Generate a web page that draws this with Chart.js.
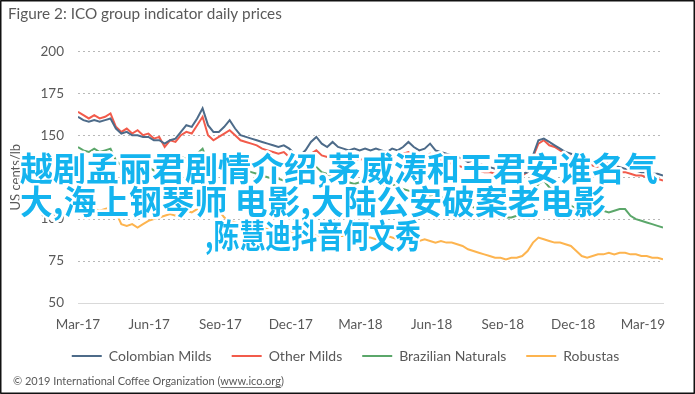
<!DOCTYPE html>
<html lang="en">
<head>
<meta charset="UTF-8">
<title>ICO group indicator daily prices</title>
<script src="https://cdn.jsdelivr.net/npm/chart.js"></script>
<style>
  html, body { margin: 0; padding: 0; background: #fff; }
</style>
</head>
<body>
<canvas id="icoChart" width="695" height="394"></canvas>
<script>
// days counted from 1 Mar 2017, one reading a week
const weekDays = [
  0, 7, 14, 21, 28, 35, 42, 49, 56, 63, 70, 77, 84, 91, 98, 105, 112, 119, 126, 133,
  140, 147, 154, 161, 168, 175, 182, 189, 196, 203, 210, 217, 224, 231, 238, 245, 252, 259, 266, 273,
  280, 287, 294, 301, 308, 315, 322, 329, 336, 343, 350, 357, 364, 371, 378, 385, 392, 399, 406, 413,
  420, 427, 434, 441, 448, 455, 462, 469, 476, 483, 490, 497, 504, 511, 518, 525, 532, 539, 546, 553,
  560, 567, 574, 581, 588, 595, 602, 609, 616, 623, 630, 637, 644, 651, 658, 665, 672, 679, 686, 693,
  700, 707, 714, 721, 728, 735, 742, 749, 756
];

const seriesNames = ['Colombian Milds', 'Other Milds', 'Brazilian Naturals', 'Robustas'];

const colombianMilds = [
  161, 159, 158, 159, 158, 159, 160, 154, 151, 152,
  150, 150, 149, 149, 147, 147, 145, 147, 148, 152,
  156, 155, 160, 166, 156, 152, 152, 155, 159, 154,
  150, 149, 148, 147, 146, 145, 144, 143, 144, 142,
  139, 138, 141, 146, 149, 145, 143, 146, 143, 142,
  141, 142, 141, 142, 141, 142, 141, 140, 142, 141,
  143, 146, 143, 141, 142, 145, 141, 140, 139, 138,
  137, 136, 134, 135, 133, 132, 131, 130, 131, 128,
  127, 126, 127, 128, 138, 147, 148, 146, 144, 142,
  140, 139, 138, 137, 136, 135, 134, 134, 133, 132,
  131, 130, 130, 129, 128, 128, 127, 127, 126
];

const otherMilds = [
  164, 162, 160, 162, 160, 161, 163, 155, 152, 154,
  151, 153, 150, 151, 148, 149, 143, 147, 146, 150,
  152, 151, 156, 161, 150, 147, 149, 151, 153, 150,
  147, 146, 145, 144, 142, 141, 140, 139, 140, 137,
  136, 137, 136, 139, 141, 138, 137, 138, 136, 137,
  136, 135, 136, 135, 137, 137, 136, 135, 137, 138,
  139, 140, 138, 137, 137, 139, 136, 135, 134, 133,
  132, 131, 130, 130, 129, 128, 128, 127, 128, 126,
  125, 125, 126, 128, 137, 145, 147, 144, 143, 141,
  139, 137, 136, 134, 133, 132, 131, 131, 130, 129,
  128, 128, 127, 126, 126, 125, 124, 124, 123
];

const brazilianNaturals = [
  143, 141, 140, 142, 140, 141, 142, 135, 132, 133,
  131, 132, 130, 131, 129, 130, 133, 135, 136, 137,
  136, 138, 139, 142, 134, 131, 132, 134, 136, 132,
  130, 129, 128, 127, 126, 125, 124, 124, 123, 122,
  123, 127, 130, 133, 131, 128, 127, 125, 124, 123,
  122, 121, 122, 121, 122, 123, 121, 120, 121, 119,
  118, 117, 116, 117, 115, 114, 115, 113, 112, 113,
  111, 110, 108, 107, 106, 105, 104, 103, 102, 101,
  101, 102, 103, 105, 115, 121, 123, 119, 116, 113,
  110, 108, 106, 105, 104, 103, 104, 105, 104, 105,
  106, 106, 102, 100, 99, 98, 97, 96, 95
];

const robustas = [
  107, 106, 107, 106, 105, 106, 107, 104, 97, 96,
  97, 95, 97, 99, 100, 101, 102, 103, 102, 104,
  105, 104, 106, 105, 106, 107, 105, 101, 99, 98,
  97, 96, 96, 95, 95, 94, 94, 93, 94, 93,
  92, 93, 92, 91, 90, 91, 92, 91, 90, 90,
  89, 89, 88, 89, 89, 88, 89, 90, 89, 88,
  89, 88, 88, 87, 88, 87, 86, 87, 86, 86,
  85, 84, 82, 81, 80, 79, 78, 77, 77, 76,
  77, 77, 78, 81, 86, 89, 88, 87, 86, 86,
  85, 84, 81, 78, 77, 78, 79, 79, 80, 79,
  80, 80, 79, 79, 78, 78, 77, 77, 76
];

// x tick positions (first day of each quarter) and their labels
const tickDays = [0, 92, 184, 275, 365, 457, 549, 640, 730];
const tickLabels = ['Mar-17', 'Jun-17', 'Sep-17', 'Dec-17', 'Mar-18', 'Jun-18', 'Sep-18', 'Dec-18', 'Mar-19'];

const seriesColors = ['#4d6b89', '#f25b4b', '#5ba76a', '#fdb44f'];

const overlayLines = [
  '越剧孟丽君剧情介绍,茅威涛和王君安谁名气',
  '大,海上钢琴师 电影,大陆公安破案老电影',
  ',陈慧迪抖音何文秀'
];

const textGrey = '#595959';

const toPoints = (values) => values.map((v, i) => ({ x: weekDays[i], y: v }));

// frame, copyright line and the overlaid caption
const extrasPlugin = {
    id: 'extras',
    beforeDraw(chart) {
        const ctx = chart.ctx;
        ctx.save();
        ctx.fillStyle = '#fff';
        ctx.fillRect(0, 0, chart.width, chart.height);
        ctx.restore();
    },
    afterLayout(chart) {
        // the legend in the original sits a bit right of the plot centre
        chart.legend.left += 10;
        chart.legend.right += 10;
    },
    afterDraw(chart) {
        const ctx = chart.ctx;
        ctx.save();

        // copyright
        const prefix = '© 2019 International Coffee Organization (';
        const link = 'www.ico.org';
        ctx.font = '11px Lato';
        ctx.fillStyle = textGrey;
        ctx.textBaseline = 'middle';
        ctx.fillText(prefix + link + ')', 13, 381);
        const x0 = 13 + ctx.measureText(prefix).width;
        const w = ctx.measureText(link).width;
        ctx.fillRect(x0, 387, w, 0.8);

        // caption over the plot
        ctx.font = 'bold 33px "Noto Sans CJK SC"';
        ctx.textBaseline = 'middle';
        ctx.lineJoin = 'round';
        const xs = [20, 20, 205];
        const ys = [168, 201, 235];
        const widths = [642, 586, 216];
        overlayLines.forEach((line, i) => {
            ctx.strokeStyle = '#fff';
            ctx.lineWidth = 5;
            ctx.strokeText(line, xs[i], ys[i], widths[i]);
            ctx.fillStyle = '#14b4ef';
            ctx.fillText(line, xs[i], ys[i], widths[i]);
        });

        // outer frame
        ctx.strokeStyle = '#111';
        ctx.lineWidth = 1.5;
        ctx.strokeRect(0.75, 0.75, chart.width - 1.5, chart.height - 1.5);
        ctx.restore();
    }
};

const ctx = document.getElementById('icoChart').getContext('2d');
new Chart(ctx, {
    type: 'line',
    data: {
        datasets: [colombianMilds, otherMilds, brazilianNaturals, robustas].map((values, i) => ({
            label: seriesNames[i],
            data: toPoints(values),
            borderColor: seriesColors[i],
            backgroundColor: seriesColors[i],
            borderWidth: 2,
            pointRadius: 0,
            tension: 0
        }))
    },
    options: {
        responsive: false,
        animation: false,
        layout: { padding: { left: 8, right: 32, top: 0, bottom: 21 } },
        scales: {
            x: {
                type: 'linear',
                min: 0,
                max: 756,
                afterFit: (scale) => { scale.height = 26; },
                afterBuildTicks: (scale) => {
                    scale.ticks = tickDays.map(d => ({ value: d }));
                },
                grid: { display: false, drawTicks: false },
                border: { display: true, color: '#d9d9d9', width: 1 },
                ticks: {
                    autoSkip: false,
                    maxRotation: 0,
                    padding: 14,
                    color: textGrey,
                    font: { family: 'Lato', size: 13.5 },
                    callback: (value) => tickLabels[tickDays.indexOf(value)]
                }
            },
            y: {
                min: 50,
                max: 200,
                afterFit: (scale) => { scale.width = 70; },
                grid: {
                    drawTicks: false,
                    color: (c) => c.tick && c.tick.value === 50 ? 'rgba(0,0,0,0)' : '#b8b8b8',
                    lineWidth: 1
                },
                border: { display: false, dash: [2, 3] },
                ticks: {
                    stepSize: 25,
                    padding: 14,
                    color: textGrey,
                    font: { family: 'Lato', size: 13.5 }
                },
                title: {
                    display: true,
                    text: 'US cents/lb',
                    color: textGrey,
                    padding: { top: 0, bottom: 0 },
                    font: { family: 'Lato', size: 13 }
                }
            }
        },
        plugins: {
            title: {
                display: true,
                text: 'Figure 2: ICO group indicator daily prices',
                align: 'start',
                color: textGrey,
                font: { family: 'Lato', size: 15.3, weight: 'normal' },
                padding: { top: 5, bottom: 28 }
            },
            legend: {
                position: 'bottom',
                labels: {
                    boxWidth: 30,
                    boxHeight: 2,
                    padding: 20,
                    color: textGrey,
                    font: { family: 'Lato', size: 14 },
                    generateLabels: (chart) => Chart.defaults.plugins.legend.labels.generateLabels(chart)
                        .map(item => Object.assign(item, { lineWidth: 0 }))
                }
            },
            tooltip: { enabled: false }
        }
    },
    plugins: [extrasPlugin]
});
</script>
</body>
</html>
